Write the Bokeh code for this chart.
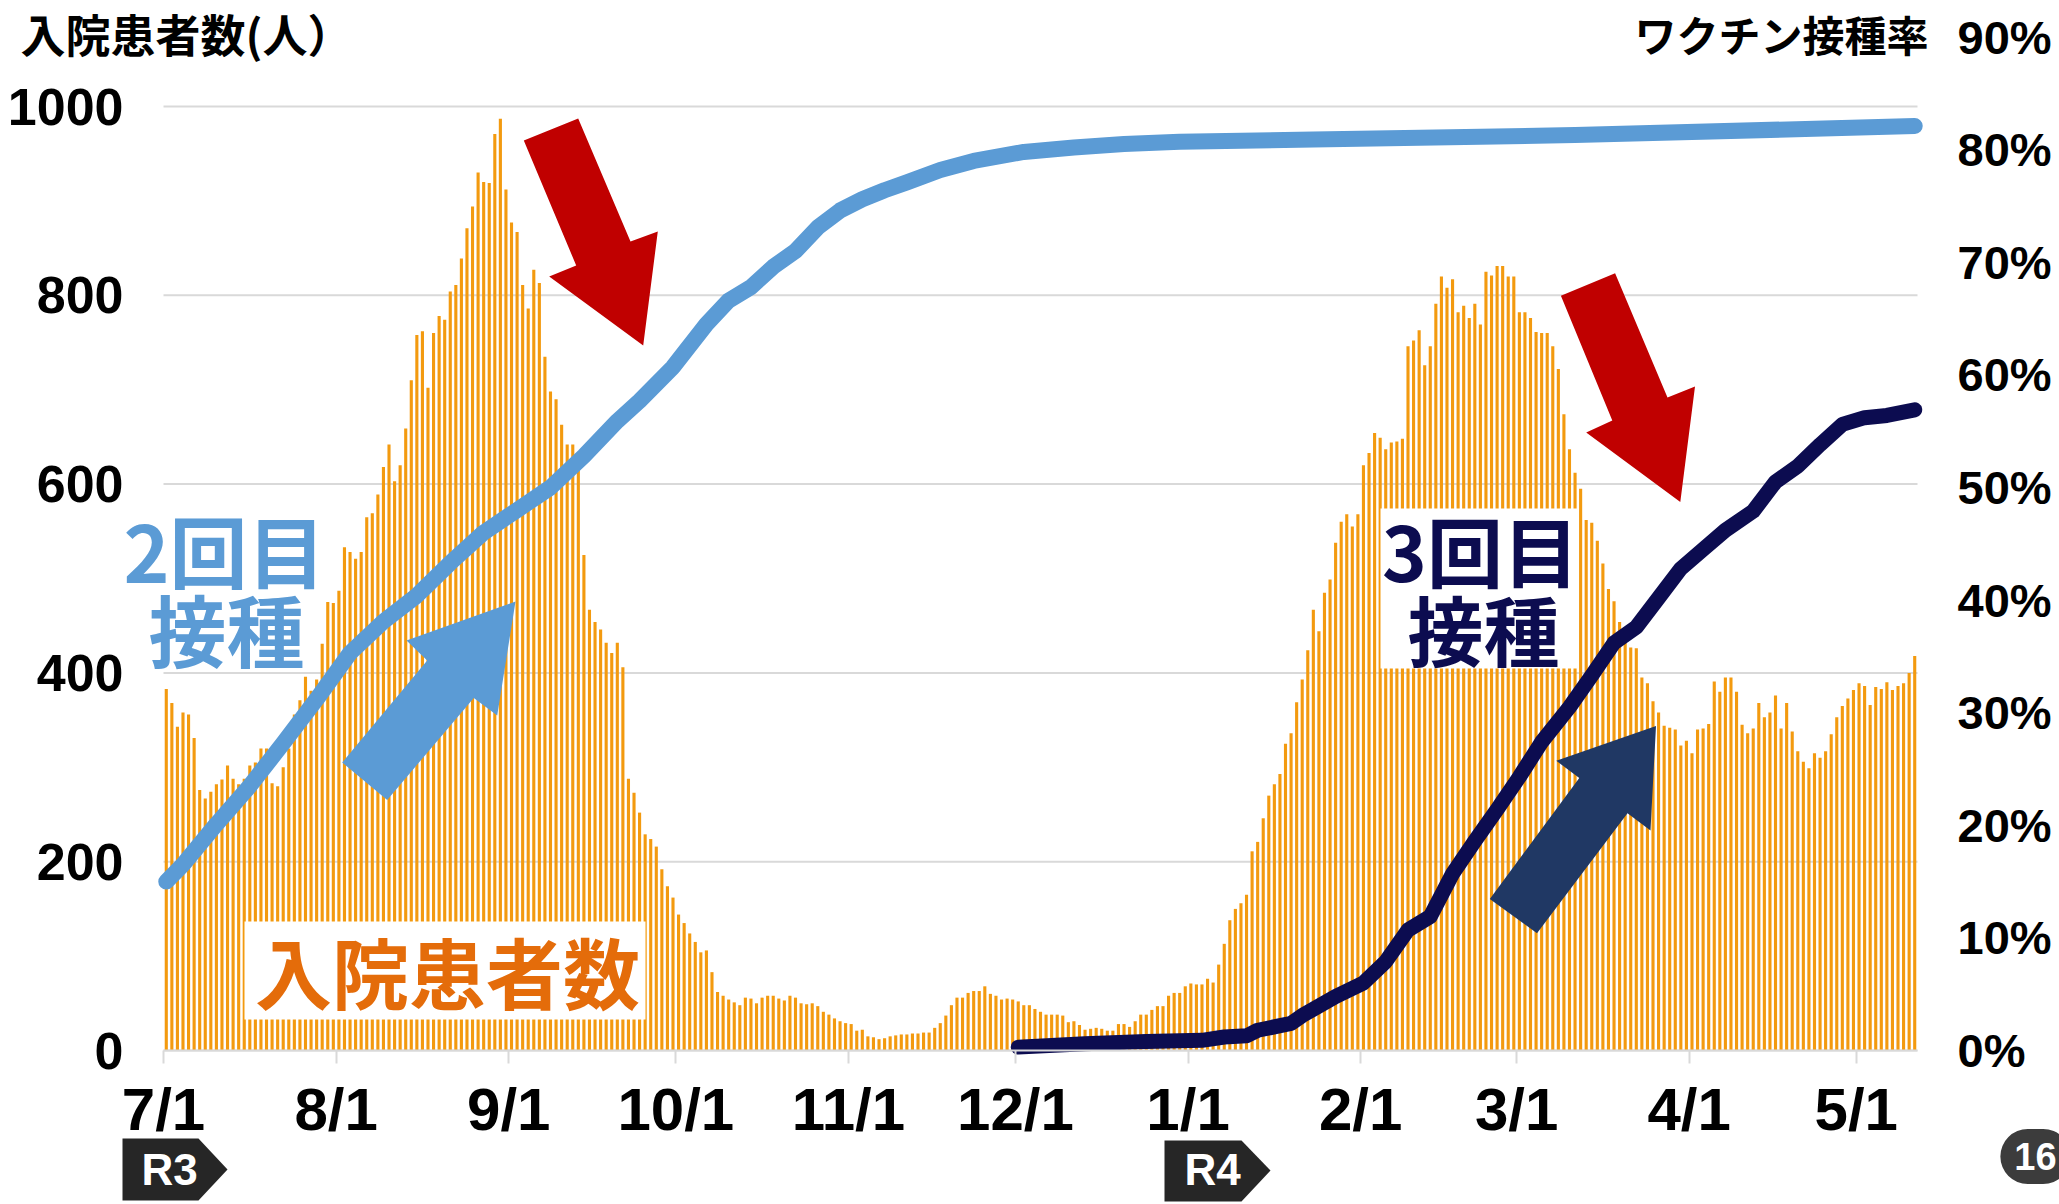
from bokeh.plotting import figure
from bokeh.models import Range1d, LinearAxis, FixedTicker, Label, PolyAnnotation, BoxAnnotation
from bokeh.embed import file_html
from bokeh.resources import INLINE

# ---------------- data ----------------
# daily inpatients, 2021-07-01 .. 2022-05-11 (index = days since 7/1)
inpatients = [
    383, 368, 343, 358, 356, 331, 276, 267, 274, 282,
    287, 302, 288, 282, 288, 302, 305, 320, 320, 283,
    280, 300, 320, 356, 371, 396, 381, 393, 431, 475,
    474, 487, 533, 528, 521, 528, 565, 569, 589, 618,
    642, 603, 620, 659, 710, 758, 762, 702, 760, 778,
    774, 804, 811, 839, 871, 894, 930, 920, 919, 971,
    987, 912, 877, 867, 811, 786, 827, 813, 735, 698,
    690, 663, 642, 642, 619, 525, 467, 454, 446, 432,
    421, 432, 406, 288, 273, 252, 229, 224, 216, 192,
    174, 162, 144, 135, 124, 115, 104, 106, 83, 62,
    58, 54, 51, 48, 56, 55, 50, 56, 58, 58,
    55, 53, 58, 56, 50, 49, 50, 47, 41, 38,
    34, 31, 29, 28, 21, 22, 15, 14, 12, 13,
    15, 16, 17, 17, 18, 18, 19, 19, 24, 29,
    37, 48, 56, 56, 61, 63, 63, 68, 60, 58,
    54, 55, 54, 52, 48, 48, 44, 41, 38, 38,
    38, 37, 30, 31, 27, 22, 23, 24, 23, 21,
    21, 28, 28, 25, 31, 38, 38, 43, 47, 47,
    58, 61, 61, 68, 71, 70, 70, 76, 72, 91,
    113, 138, 150, 156, 165, 211, 221, 246, 270, 282,
    293, 325, 336, 369, 393, 424, 467, 444, 485, 499,
    538, 560, 568, 555, 568, 620, 633, 654, 649, 637,
    644, 645, 648, 746, 752, 763, 726, 746, 791, 820,
    808, 817, 782, 789, 776, 791, 769, 825, 821, 831,
    831, 820, 820, 782, 782, 776, 761, 760, 760, 746,
    722, 674, 637, 612, 595, 562, 559, 540, 516, 489,
    476, 454, 438, 427, 426, 395, 389, 370, 358, 344,
    342, 340, 323, 328, 315, 340, 341, 346, 391, 380,
    395, 395, 380, 345, 336, 341, 368, 353, 358, 376,
    341, 368, 338, 317, 306, 299, 315, 310, 317, 335,
    353, 365, 373, 382, 389, 386, 366, 385, 383, 390,
    382, 386, 389, 400, 418,
]

month_ticks = [0, 31, 62, 92, 123, 153, 184, 215, 243, 274, 304]
month_labels = ["7/1", "8/1", "9/1", "10/1", "11/1", "12/1", "1/1", "2/1", "3/1", "4/1", "5/1"]

# 2nd-dose vaccination rate (%), read at these day offsets
dose2_day = [0, 3, 9, 15, 21, 27, 33, 39, 45, 51, 57, 63, 69, 75, 81, 85, 91, 97, 101,
             105, 109, 113, 117, 121, 125, 129, 133, 139, 145, 154, 163, 172, 182, 206,
             253, 314]
dose2_pct = [15.0, 16.5, 20.1, 23.5, 27.3, 31.2, 35.3, 38.1, 40.4, 43.3, 46.0, 48.0,
             50.0, 52.8, 55.9, 57.7, 60.7, 64.5, 66.6, 67.8, 69.6, 71.0, 73.1, 74.6,
             75.6, 76.4, 77.1, 78.2, 79.0, 79.8, 80.2, 80.5, 80.7, 80.9, 81.3, 82.1]

# 3rd-dose vaccination rate (%)
dose3_day = [153, 165, 176, 186, 190, 194, 196, 202, 204, 210, 215, 219, 223, 227, 231,
             235, 239, 243, 247, 252, 256, 260, 264, 268, 272, 276, 280, 285, 289, 293,
             297, 301, 305, 309, 314]
dose3_pct = [0.3, 0.6, 0.8, 0.9, 1.2, 1.3, 1.8, 2.4, 3.1, 4.8, 6.0, 7.9, 10.7, 11.9, 15.7,
             18.6, 21.4, 24.3, 27.4, 30.5, 33.3, 36.2, 37.6, 40.2, 42.8, 44.5, 46.2, 47.9,
             50.5, 51.9, 53.8, 55.6, 56.2, 56.4, 56.9]

left_ticks = [0, 200, 400, 600, 800, 1000]
right_ticks = [0, 10, 20, 30, 40, 50, 60, 70, 80, 90]

# ---------------- geometry (page pixels) ----------------
W, H = 2059, 1204
PX0, PX1 = 163.0, 1917.0      # plot area left / right
PY0 = 1050.0                  # zero line
PY1000 = 106.0                # 1000 line
PCT10 = 112.6                 # pixels per 10 %
NDAYS = len(inpatients)
KX = (PX1 - PX0) / NDAYS
KY = (PY0 - PY1000) / 1000.0
KR = PCT10 / 10.0


def dx(px):
    return (px - PX0) / KX


def dy(py):
    return (PY0 - py) / KY


p = figure(width=W, height=H,
           x_range=Range1d(dx(0), dx(W)), y_range=Range1d(dy(H), dy(0)),
           x_axis_location=None, y_axis_location=None,
           output_backend="svg", toolbar_location=None,
           min_border_left=0, min_border_right=0, min_border_top=0, min_border_bottom=0)
p.title.visible = False
p.outline_line_color = None
p.background_fill_color = "white"
p.border_fill_color = "white"
p.xgrid.visible = False
p.ygrid.visible = False
p.extra_y_ranges = {"pct": Range1d((PY0 - H) / KR, PY0 / KR)}

AX_FONT = "Liberation Sans"

# horizontal grid lines at the left-axis ticks, spanning the plot area
p.segment(x0=[0] * len(left_ticks), x1=[NDAYS] * len(left_ticks), y0=left_ticks, y1=left_ticks,
          line_color="#d9d9d9", line_width=2, level="underlay")

# axes (fixed at the plot-area edges)
xa = LinearAxis(fixed_location=0, ticker=FixedTicker(ticks=month_ticks), bounds=(0, NDAYS))
xa.major_label_overrides = {t: s for t, s in zip(month_ticks, month_labels)}
xa.axis_line_color = "#d9d9d9"
xa.axis_line_width = 2
xa.major_tick_line_color = "#d9d9d9"
xa.major_tick_line_width = 2
xa.major_tick_out = 13
xa.major_tick_in = 0
xa.minor_tick_line_color = None
xa.major_label_standoff = 12
xa.major_label_text_font = AX_FONT
xa.major_label_text_font_size = "60px"
xa.major_label_text_font_style = "bold"
xa.major_label_text_color = "black"
p.add_layout(xa, "below")

ya = LinearAxis(fixed_location=0, ticker=FixedTicker(ticks=left_ticks))
ya.axis_line_color = None
ya.major_tick_line_color = None
ya.minor_tick_line_color = None
ya.major_tick_out = 0
ya.major_tick_in = 0
ya.major_label_standoff = 40
ya.major_label_text_font = AX_FONT
ya.major_label_text_font_size = "52px"
ya.major_label_text_font_style = "bold"
ya.major_label_text_color = "black"
p.add_layout(ya, "left")

ra = LinearAxis(y_range_name="pct", fixed_location=NDAYS, ticker=FixedTicker(ticks=right_ticks))
ra.major_label_overrides = {t: "%d%%" % t for t in right_ticks}
ra.axis_line_color = None
ra.major_tick_line_color = None
ra.minor_tick_line_color = None
ra.major_tick_out = 0
ra.major_tick_in = 0
ra.major_label_standoff = 40
ra.major_label_text_font = AX_FONT
ra.major_label_text_font_size = "47px"
ra.major_label_text_font_style = "bold"
ra.major_label_text_color = "black"
p.add_layout(ra, "right")

# bars
p.vbar(x=[i + 0.5 for i in range(NDAYS)], top=inpatients, width=0.56,
       fill_color="#F39A0F", line_color=None)

# vaccination lines
p.line([d + 0.5 for d in dose2_day], dose2_pct, y_range_name="pct", line_width=16,
       line_color="#5B9BD5", line_cap="round", line_join="round")
p.line([d + 0.5 for d in dose3_day], dose3_pct, y_range_name="pct", line_width=15,
       line_color="#0C0C50", line_cap="round", line_join="round")


# arrows (page pixel outlines)
def arrow(pts, color):
    p.patch([dx(a) for a, b in pts], [dy(b) for a, b in pts], fill_color=color, line_color=None)


arrow([(523.3, 140), (577.7, 118), (630, 241), (657.3, 231), (642.7, 345), (548.7, 276), (575.7, 265)], "#C00000")
arrow([(341.7, 761.9), (426.7, 660), (406, 640), (515, 601), (496.7, 715), (473.3, 697.5), (386.7, 799.4)], "#5B9BD5")
arrow([(1560.4, 295.3), (1614.6, 272.8), (1667, 397.1), (1694.5, 385.9), (1679.8, 501.6), (1585.7, 431.9), (1611.8, 420.1)], "#C00000")
arrow([(1489.3, 898.4), (1578.8, 777.4), (1555.8, 760.3), (1655.5, 725.4), (1650, 829.9), (1627, 812.8), (1536.5, 932.7)], "#203864")

# white boxes behind labels
p.add_layout(BoxAnnotation(left=dx(244), right=dx(645), top=dy(921), bottom=dy(1019),
                           fill_color="white", fill_alpha=1, line_color=None))
p.add_layout(BoxAnnotation(left=dx(1380), right=dx(1577), top=dy(508), bottom=dy(668),
                           fill_color="white", fill_alpha=1, line_color=None))

JP = "Noto Sans CJK JP"


def label(px, py, text, size, color, font=JP, align="center"):
    p.add_layout(Label(x=dx(px), y=dy(py), text=text, text_font=font, text_font_size=size,
                       text_font_style="bold", text_color=color, text_align=align,
                       text_baseline="middle"))


label(20, 33, "入院患者数(人）", "45px", "black", align="left")
label(1928, 33, "ワクチン接種率", "42px", "black", align="right")
label(224, 548, "2回目", "78px", "#5B9BD5")
label(226, 627, "接種", "78px", "#5B9BD5")
label(1480, 548, "3回目", "76px", "#0C0C50")
label(1483, 627, "接種", "76px", "#0C0C50")
label(447, 970, "入院患者数", "77px", "#E46C0A")

# era badges
for pts, txt, cx in [([(122, 1138), (198, 1138), (227, 1169), (198, 1200), (122, 1200)], "R3", 169),
                     ([(1164, 1140), (1241, 1140), (1270, 1170), (1241, 1201), (1164, 1201)], "R4", 1212)]:
    p.add_layout(PolyAnnotation(xs=[dx(a) for a, b in pts], ys=[dy(b) for a, b in pts],
                                fill_color="#262626", fill_alpha=1, line_color=None))
    label(cx, 1169, txt, "44px", "white", font=AX_FONT)

p.add_layout(Label(x=dx(2035), y=dy(1156), text="16", text_font=AX_FONT, text_font_size="38px",
                   text_font_style="bold", text_color="white", text_align="center",
                   text_baseline="middle", background_fill_color="#3c3c3c",
                   padding=14, border_radius=34))

open("out.html", "w").write(file_html(p, INLINE))
